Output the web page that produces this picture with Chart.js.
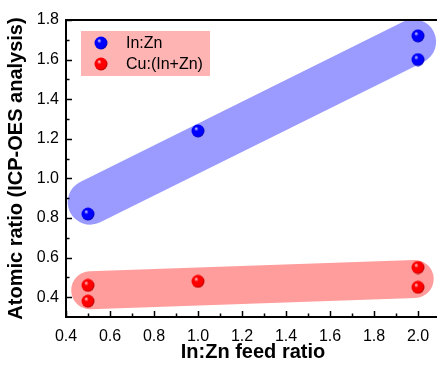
<!DOCTYPE html>
<html>
<head>
<meta charset="utf-8">
<script src="https://cdn.jsdelivr.net/npm/chart.js@4.4.1/dist/chart.umd.min.js"></script>
<style>
  html, body { margin: 0; padding: 0; background: #fff; overflow: hidden; }
  #wrap { position: relative; width: 440px; height: 368px; }
</style>
</head>
<body>
<div id="wrap"><canvas id="ratioChart" width="440" height="368"></canvas></div>
<script>
const inZnFeed = [0.5, 1.0, 2.0, 2.0];
const inZnMeasured = [0.82, 1.24, 1.72, 1.60];
const cuFeed = [0.5, 0.5, 1.0, 2.0, 2.0];
const cuMeasured = [0.46, 0.38, 0.48, 0.55, 0.45];

// guide bands behind the points (start/end of each capsule)
const blueBandX = [0.51, 1.98];
const blueBandY = [0.88, 1.69];
const redBandX = [0.51, 1.985];
const redBandY = [0.435, 0.492];

// axis ticks
const xTicks = [0.4, 0.6, 0.8, 1.0, 1.2, 1.4, 1.6, 1.8, 2.0];
const xMinor = [0.5, 0.7, 0.9, 1.1, 1.3, 1.5, 1.7, 1.9];
const yTicks = [0.4, 0.6, 0.8, 1.0, 1.2, 1.4, 1.6, 1.8];
const yMinor = [0.5, 0.7, 0.9, 1.1, 1.3, 1.5, 1.7];

const FONT = "'Liberation Sans', Arial, sans-serif";

function pairs(xs, ys) {
    return xs.map((x, i) => ({ x: x, y: ys[i] }));
}

// little shaded ball used as point marker
function makeSphere(light, mid, dark) {
    const c = document.createElement('canvas');
    c.width = 14;
    c.height = 14;
    const g = c.getContext('2d');
    const grad = g.createRadialGradient(5, 4.5, 0, 6.5, 6.5, 7.5);
    grad.addColorStop(0, light);
    grad.addColorStop(0.3, mid);
    grad.addColorStop(0.75, mid);
    grad.addColorStop(1, dark);
    g.fillStyle = grad;
    g.beginPath();
    g.arc(7, 7, 6.5, 0, Math.PI * 2);
    g.fill();
    return c;
}

const blueBall = makeSphere('#d8d8ff', '#0000ff', '#0000a0');
const redBall = makeSphere('#ffd8d8', '#ff0000', '#a00000');

// inward tick marks + top frame line
const frameTicks = {
    id: 'frameTicks',
    afterDraw(chart) {
        const ctx = chart.ctx;
        const a = chart.chartArea;
        const xs = chart.scales.x;
        const ys = chart.scales.y;
        ctx.save();
        ctx.strokeStyle = '#000';
        ctx.lineWidth = 1.5;
        ctx.beginPath();
        xTicks.forEach(v => { const p = Math.round(xs.getPixelForValue(v)) + 0.5; ctx.moveTo(p, a.bottom); ctx.lineTo(p, a.bottom - 6); });
        xMinor.forEach(v => { const p = Math.round(xs.getPixelForValue(v)) + 0.5; ctx.moveTo(p, a.bottom); ctx.lineTo(p, a.bottom - 3.5); });
        yTicks.forEach(v => { const p = Math.round(ys.getPixelForValue(v)) + 0.5; ctx.moveTo(a.left, p); ctx.lineTo(a.left + 6, p); });
        yMinor.forEach(v => { const p = Math.round(ys.getPixelForValue(v)) + 0.5; ctx.moveTo(a.left, p); ctx.lineTo(a.left + 3.5, p); });
        ctx.stroke();
        ctx.lineWidth = 2;
        ctx.beginPath();
        ctx.moveTo(a.left, a.top);
        ctx.lineTo(a.right, a.top);
        ctx.stroke();
        ctx.restore();
    }
};

// pink legend box in the upper left
const boxLegend = {
    id: 'boxLegend',
    afterDatasetsDraw(chart) {
        const ctx = chart.ctx;
        ctx.save();
        ctx.fillStyle = '#ffb4b4';
        ctx.fillRect(81, 31, 129, 45);
        ctx.drawImage(blueBall, 94, 36);
        ctx.drawImage(redBall, 94, 57);
        ctx.fillStyle = '#000';
        ctx.font = '16px ' + FONT;
        ctx.textBaseline = 'middle';
        ctx.fillText('In:Zn', 126, 44);
        ctx.fillText('Cu:(In+Zn)', 126, 65);
        ctx.restore();
    }
};

new Chart(document.getElementById('ratioChart'), {
    type: 'scatter',
    data: {
        datasets: [
            {
                label: 'In:Zn',
                data: pairs(inZnFeed, inZnMeasured),
                pointStyle: blueBall,
                pointRadius: 7,
                order: 0
            },
            {
                label: 'Cu:(In+Zn)',
                data: pairs(cuFeed, cuMeasured),
                pointStyle: redBall,
                pointRadius: 7,
                order: 0
            },
            {
                type: 'line',
                label: 'band-blue',
                data: pairs(blueBandX, blueBandY),
                borderColor: '#9b9bff',
                borderWidth: 45,
                borderCapStyle: 'round',
                pointRadius: 0,
                fill: false,
                order: 5
            },
            {
                type: 'line',
                label: 'band-red',
                data: pairs(redBandX, redBandY),
                borderColor: '#ff9d9d',
                borderWidth: 38,
                borderCapStyle: 'round',
                pointRadius: 0,
                fill: false,
                order: 5
            }
        ]
    },
    options: {
        responsive: false,
        animation: false,
        devicePixelRatio: 1,
        layout: { autoPadding: false, padding: { top: 20, right: 0, left: 0, bottom: 0 } },
        plugins: {
            legend: { display: false },
            tooltip: { enabled: false }
        },
        scales: {
            x: {
                type: 'linear',
                min: 0.4,
                max: 2.1,
                afterBuildTicks: s => { s.ticks = xTicks.map(v => ({ value: v })); },
                afterFit: s => { s.height = 51; s.paddingLeft = 0; s.paddingRight = 0; },
                grid: { display: false, drawTicks: false },
                border: { display: true, color: '#000', width: 2 },
                ticks: {
                    padding: 10,
                    color: '#000',
                    font: { family: FONT, size: 16 },
                    maxRotation: 0,
                    callback: v => v.toFixed(1)
                },
                title: {
                    display: true,
                    text: 'In:Zn feed ratio',
                    color: '#000',
                    font: { family: FONT, size: 20, weight: 'bold' },
                    padding: { top: 0, bottom: 4 }
                }
            },
            y: {
                type: 'linear',
                min: 0.3,
                max: 1.8,
                afterBuildTicks: s => { s.ticks = yTicks.map(v => ({ value: v })); },
                afterFit: s => { s.width = 66; s.paddingTop = 0; s.paddingBottom = 0; },
                grid: { display: false, drawTicks: false },
                border: { display: true, color: '#000', width: 2 },
                ticks: {
                    padding: 7,
                    color: '#000',
                    font: { family: FONT, size: 16 },
                    callback: v => v.toFixed(1)
                },
                title: {
                    display: true,
                    text: 'Atomic ratio (ICP-OES analysis)',
                    color: '#000',
                    font: { family: FONT, size: 20, weight: 'bold' },
                    padding: { top: 4, bottom: 0 }
                }
            }
        }
    },
    plugins: [frameTicks, boxLegend]
});
</script>
</body>
</html>
